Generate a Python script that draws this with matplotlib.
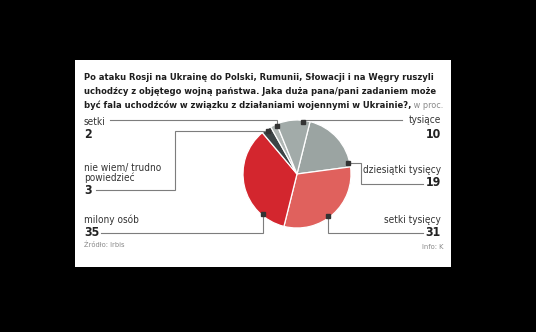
import matplotlib.pyplot as plt
from matplotlib import font_manager
from matplotlib.patches import Rectangle
import numpy as np

# survey answers, clockwise from the first wedge
labels = ['dziesiątki tysięcy', 'setki tysięcy', 'milony osób',
          'nie wiem/ trudno\npowiedzieć', 'setki', 'tysiące']
values = [19, 31, 35, 3, 2, 10]
colors = ['#9ba4a2', '#e0615d', '#d3262e', '#3c4446', '#b0b7b5', '#a2aba9']

title_lines = [
    'Po ataku Rosji na Ukrainę do Polski, Rumunii, Słowacji i na Węgry ruszyli',
    'uchodźcy z objętego wojną państwa. Jaka duża pana/pani zadaniem może',
    'być fala uchodźców w związku z działaniami wojennymi w Ukrainie?,',
]
unit = 'w proc.'
source = 'Źródło: Irbis'
credit = 'Info: K'

W, H = 536, 332

# narrow face if there is one
cond = font_manager.findfont(font_manager.FontProperties(
    family='DejaVu Sans', stretch='condensed'), fallback_to_default=True)
if 'Condensed' in cond:
    plt.rcParams['font.family'] = ['DejaVu Sans']
    plt.rcParams['font.stretch'] = 'condensed'
    fs_title, fs_lab, fs_num, fs_small = 6.75, 7.2, 8.8, 5.4
else:
    plt.rcParams['font.family'] = ['Liberation Sans', 'DejaVu Sans']
    fs_title, fs_lab, fs_num, fs_small = 6.4, 7.0, 8.8, 5.4

fig = plt.figure(figsize=(W / 100, H / 100), dpi=100, facecolor='black')
ax = fig.add_axes([0, 0, 1, 1])


def P(y):
    # pixel row from the top -> data y
    return H - y


cx, cy, r = 297, P(174), 54
wedges, _ = ax.pie(values, colors=colors, startangle=76, counterclock=False,
                   center=(cx, cy), radius=r,
                   wedgeprops=dict(edgecolor='white', linewidth=0.9))
ax.set_xlim(0, W)
ax.set_ylim(0, H)
ax.set_aspect('auto')
ax.axis('off')

ax.add_patch(Rectangle((75, P(267)), 376, 207, facecolor='white',
                       edgecolor='none', zorder=0))

# title
for i, line in enumerate(title_lines):
    t = ax.text(84, P(77 + i * 14.3), line, fontsize=fs_title,
                fontweight='bold', color='#1e1e1e', va='center', ha='left')
ax.annotate(' ' + unit, xy=(1, 0), xycoords=t, fontsize=fs_title - 0.3,
            color='#8a8a8a', va='bottom', ha='left')

# leader routes: marker angle inside wedge, first leg ('v' or 'h'), bends
grey = '#7d7d7d'
leaders = {
    'dziesiątki tysięcy': (11.7, 'h', [(361, 184), (423, 184)]),
    'setki tysięcy': (-54, 'v', [(423, 233)]),
    'milony osób': (230, 'v', [(101, 233)]),
    'nie wiem/ trudno\npowiedzieć': (124, 'h', [(175, 190), (96, 190)]),
    'setki': (113, 'v', [(110, 120)]),
    'tysiące': (83, 'v', [(402, 120)]),
}
for lab in labels:
    ang, leg, path = leaders[lab]
    a = np.deg2rad(ang)
    mx, my = cx + 0.97 * r * np.cos(a), cy + 0.97 * r * np.sin(a)
    nxt_x, nxt_y = path[0][0], P(path[0][1])
    if leg == 'v':
        xs, ys = [mx, mx], [my, nxt_y]
    else:
        xs, ys = [mx, nxt_x], [my, my]
    xs += [p[0] for p in path]
    ys += [P(p[1]) for p in path]
    ax.plot(xs, ys, color=grey, lw=0.8, zorder=3, solid_joinstyle='miter')
    ax.plot(mx, my, marker='s', ms=3.2, color='#333333', zorder=4)

# labels on the left
left = [('setki', 122, 135), ('nie wiem/ trudno\npowiedzieć', 173, 190),
        ('milony osób', 220, 233)]
for lab, ly, vy in left:
    val = values[labels.index(lab)]
    ax.text(84, P(ly), lab, fontsize=fs_lab, color='#333333', va='center',
            ha='left', linespacing=1.0)
    ax.text(84, P(vy), str(val), fontsize=fs_num, fontweight='bold',
            color='#222222', va='center', ha='left')

# labels on the right
right = [('tysiące', 120, 134), ('dziesiątki tysięcy', 170, 183),
         ('setki tysięcy', 220, 233)]
for lab, ly, vy in right:
    val = values[labels.index(lab)]
    ax.text(441, P(ly), lab, fontsize=fs_lab, color='#333333', va='center',
            ha='right')
    ax.text(441, P(vy), str(val), fontsize=fs_num, fontweight='bold',
            color='#222222', va='center', ha='right')

ax.text(84, P(245), source, fontsize=fs_small, color='#888888', va='center')
ax.text(443, P(247), credit, fontsize=fs_small, color='#888888', va='center',
        ha='right')

fig.savefig('out.png', dpi=100, facecolor='black')
